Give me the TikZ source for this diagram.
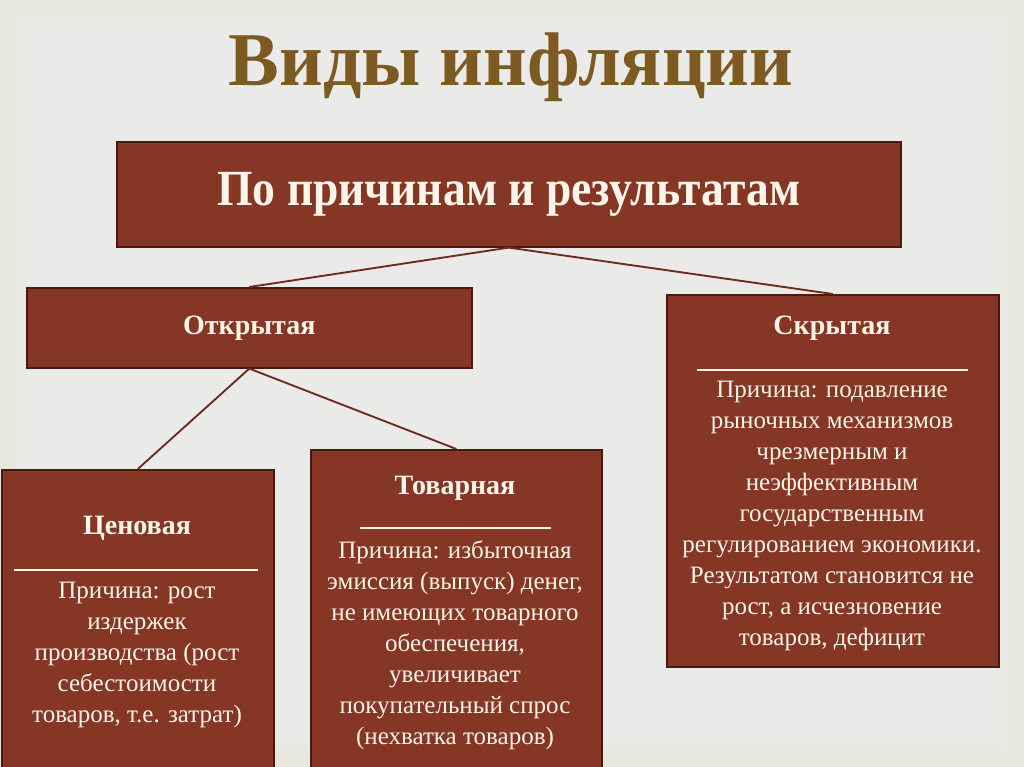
\documentclass[tikz,border=0pt]{standalone}
\usepackage{fontspec}
\setmainfont{Liberation Serif}
\newfontfamily\condserif[FakeStretch=0.9]{Liberation Serif}
\definecolor{bgmid}{HTML}{EAEAE8}
\definecolor{bgedge}{HTML}{E7E7DC}
\definecolor{boxfill}{HTML}{863624}
\definecolor{boxline}{HTML}{4A1A10}
\definecolor{linecol}{HTML}{6E2A1C}
\definecolor{boxtext}{HTML}{FDF4EA}
\definecolor{titlecol}{HTML}{7C5A22}
\begin{document}
\begin{tikzpicture}[x=0.75pt,y=-0.75pt,
  box/.style={draw=boxline, line width=1.2pt, fill=boxfill, inner sep=0, anchor=north west},
  conn/.style={draw=linecol, line width=1.4pt},
  head/.style={text=boxtext, font=\fontsize{21}{25}\selectfont\bfseries, inner sep=0},
  body/.style={text=boxtext, font=\fontsize{18.75}{23.25}\selectfont, align=center, inner sep=0},
  sep/.style={draw=boxtext, line width=0.8pt},
]
\fill[bgedge] (0,0) rectangle (1024,767);
\foreach \i in {2,4,...,30} {
  \pgfmathtruncatemacro\p{100-\i*100/30}
  \fill[bgedge!\p!bgmid] (\i,\i) rectangle (1024-\i,767-\i);
}
\useasboundingbox (0,0) rectangle (1024,767);

\node[text=titlecol, font=\fontsize{57}{66}\selectfont\bfseries, inner sep=0, anchor=base] (title) at (511,85) {Виды инфляции};

\node[box, minimum width=588pt, minimum height=78.75pt] (top) at (116,141) {};
\node[text=boxtext, font=\fontsize{38}{45}\condserif\bfseries, inner sep=0] (toptext) at (top.center) {По причинам и результатам};

\node[box, minimum width=333.75pt, minimum height=60pt] (open) at (26,287) {};
\node[head] (opentext) at (open.center) {Открытая};

\node[box, minimum width=249pt, minimum height=279pt] (hidden) at (666,294) {};
\node[head] (hiddenhead) at (832,328) {Скрытая};
\draw[sep] (697,370) -- (968,370);
\node[body] (hiddenbody) at (832,516) {Причина: подавление\\рыночных механизмов\\чрезмерным и\\неэффективным\\государственным\\регулированием экономики.\\Результатом становится не\\рост, а исчезновение\\товаров, дефицит};

\node[box, minimum width=204pt, minimum height=233pt] (price) at (1,469) {};
\node[head] (pricehead) at (137,528) {Ценовая};
\draw[sep] (14,570) -- (258,570);
\node[body] (pricebody) at (137,655) {Причина: рост\\издержек\\производства (рост\\себестоимости\\товаров, т.е. затрат)};

\node[box, minimum width=218.25pt, minimum height=248.25pt] (goods) at (310,449) {};
\node[head] (goodshead) at (455,488) {Товарная};
\draw[sep] (360,528) -- (551,528);
\node[body] (goodsbody) at (455,645) {Причина: избыточная\\эмиссия (выпуск) денег,\\не имеющих товарного\\обеспечения,\\увеличивает\\покупательный спрос\\(нехватка товаров)};

\draw[conn] (top.south) -- (open.north);
\draw[conn] (top.south) -- (hidden.north);
\draw[conn] (open.south) -- (price.north);
\draw[conn] (open.south) -- (goods.north);
\end{tikzpicture}
\end{document}
